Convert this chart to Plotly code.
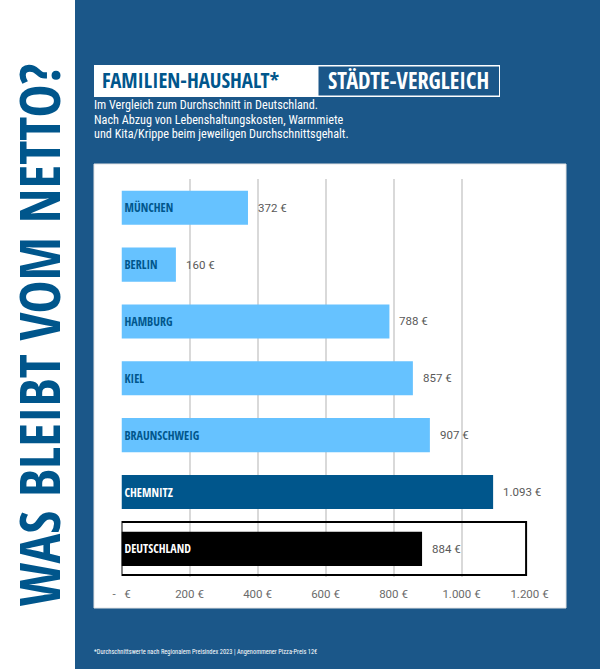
import plotly.graph_objects as go

# data
staedte = ["MÜNCHEN", "BERLIN", "HAMBURG", "KIEL", "BRAUNSCHWEIG", "CHEMNITZ", "DEUTSCHLAND"]
netto = [372, 160, 788, 857, 907, 1093, 884]
netto_labels = ["372 €", "160 €", "788 €", "857 €", "907 €", "1.093 €", "884 €"]
tick_werte = [0, 200, 400, 600, 800, 1000, 1200]
tick_labels = ["-   €", "200 €", "400 €", "600 €", "800 €", "1.000 €", "1.200 €"]
balken_farben = ["#66c2ff"] * 5 + ["#00568c", "#000000"]
text_farben = ["#00568c"] * 5 + ["#ffffff", "#ffffff"]

W, H = 600, 669
BLAU = "#1b5789"
DUNKEL = "#00568c"
HEAD = "Open Sans Condensed"
BODY = "Roboto Condensed"


def px(x):
    return x / W


def py(y):
    return 1 - y / H


def rect(x0, y0, x1, y1, fill, line=None, lw=0):
    return dict(type="rect", xref="paper", yref="paper", layer="below",
                x0=px(x0), x1=px(x1), y0=py(y0), y1=py(y1), fillcolor=fill,
                line=dict(color=line or fill, width=lw))


def txt(x, y, s, size, color, anchor="left", angle=0, bold=False, font=BODY):
    return dict(xref="paper", yref="paper", x=px(x), y=py(y), text=f"<b>{s}</b>" if bold else s,
                showarrow=False, xanchor=anchor, yanchor="middle", textangle=angle,
                font=dict(family=font, size=size, color=color))


fig = go.Figure(go.Bar(
    x=netto, y=staedte, orientation="h", marker=dict(color=balken_farben, line=dict(width=0)),
    text=["<b>%s</b>" % s for s in staedte], textposition="inside", insidetextanchor="start",
    textangle=0, constraintext="none",
    insidetextfont=dict(family=HEAD, size=12, color=text_farben), hoverinfo="skip"))

shapes = [
    rect(75, 0, 600, 669, BLAU),
    rect(94, 164, 566, 608, "#ffffff", "#e3e3e3", 1),
    rect(94, 65, 500, 97, "#ffffff"),
    rect(318.5, 66.5, 499, 95.5, BLAU),
    # Rahmen um Deutschland
    dict(type="rect", xref="x", yref="paper", layer="above", x0=0, x1=1190,
         y0=py(522), y1=py(575), line=dict(color="#000000", width=2)),
]

annots = [
    txt(38, 335.5, "WAS BLEIBT VOM NETTO?", 55.5, DUNKEL, "center", -90, True, HEAD),
    txt(100, 80, "FAMILIEN-HAUSHALT*", 20.8, DUNKEL, bold=True, font=HEAD),
    txt(326, 80, "STÄDTE-VERGLEICH", 22.4, "#ffffff", bold=True, font=HEAD),
    txt(92, 105, "Im Vergleich zum Durchschnitt in Deutschland.", 12.2, "#ffffff"),
    txt(92, 119.5, "Nach Abzug von Lebenshaltungskosten, Warmmiete", 12.2, "#ffffff"),
    txt(92, 134, "und Kita/Krippe beim jeweiligen Durchschnittsgehalt.", 12.2, "#ffffff"),
    txt(92, 652, "*Durchschnittswerte nach Regionalem Preisindex 2023 | Angenommener Pizza-Preis 12€", 6.4, "#ffffff"),
]
for wert, label, stadt in zip(netto, netto_labels, staedte):
    annots.append(dict(x=wert, y=stadt, xref="x", yref="y", text=label, showarrow=False,
                       xanchor="left", xshift=8, font=dict(family="Roboto", size=11.5, color="#595959")))

fig.update_layout(
    width=W, height=H, margin=dict(l=0, r=0, t=0, b=0, autoexpand=False), showlegend=False,
    paper_bgcolor="#ffffff", plot_bgcolor="rgba(0,0,0,0)", bargap=0.4,
    shapes=shapes, annotations=annots,
    xaxis=dict(domain=[px(121.5), px(529.5)], range=[0, 1200], tickvals=tick_werte, ticktext=tick_labels,
               showgrid=True, gridcolor="#d9d9d9", gridwidth=1.5, zeroline=False, showline=False,
               ticks="outside", ticklen=6, tickcolor="rgba(0,0,0,0)", automargin=False,
               tickfont=dict(family="Roboto", size=11.5, color="#6b6b6b")),
    yaxis=dict(domain=[py(577.3), py(179.3)], autorange="reversed", showticklabels=False, automargin=False,
               showgrid=False, zeroline=False, showline=False, ticks=""),
)

fig.write_html("out.html", config=dict(displayModeBar=False), post_script="document.body.style.margin='0';")
